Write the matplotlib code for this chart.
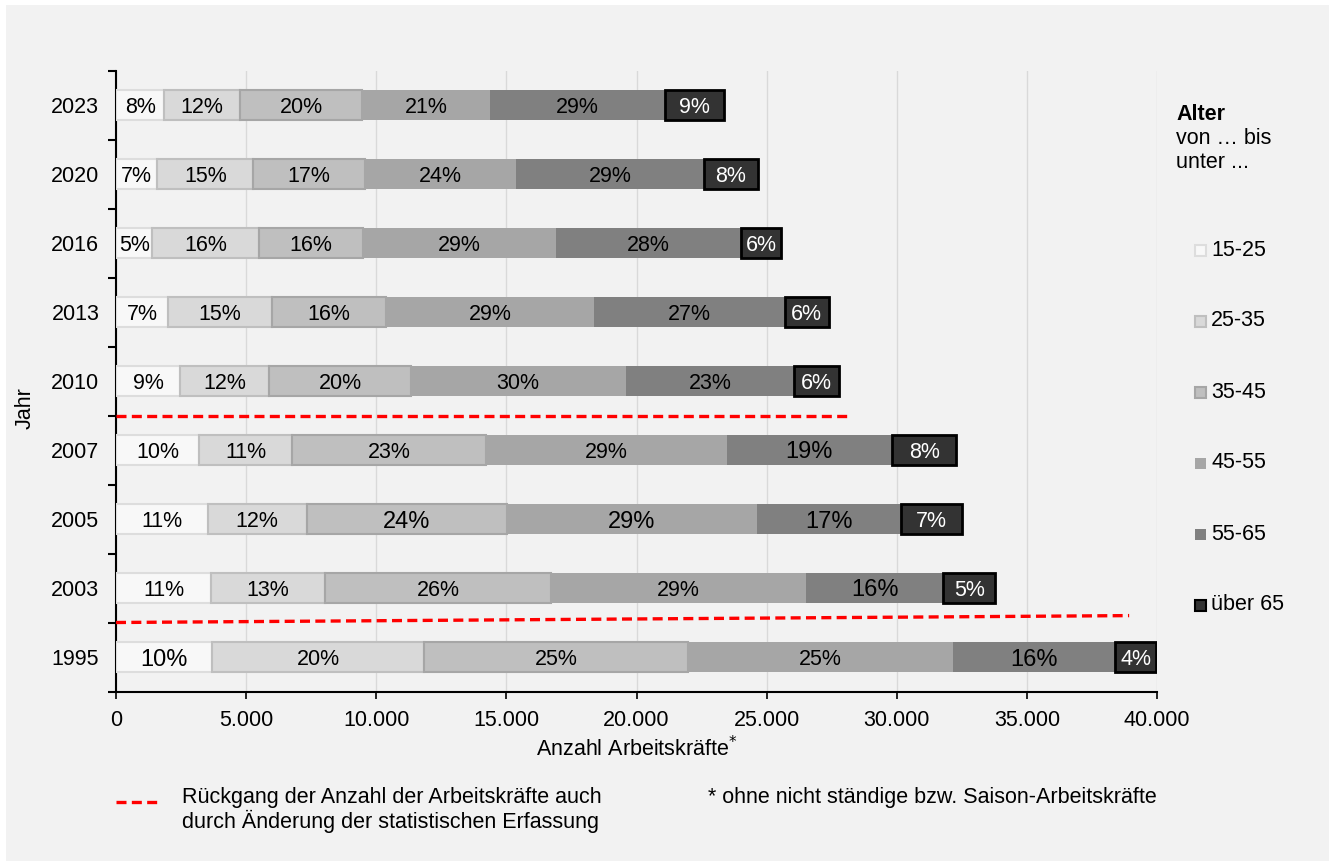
import matplotlib
matplotlib.use('Agg')
import matplotlib.pyplot as plt
import matplotlib.patches as patches
from matplotlib.ticker import FuncFormatter, MultipleLocator
from matplotlib.lines import Line2D
import numpy as np

plt.rcParams['font.family'] = ['Liberation Sans', 'DejaVu Sans']
FS = 15.5  # Grundschriftgröße

# Jahre (unten -> oben)
years = ['1995', '2003', '2005', '2007', '2010', '2013', '2016', '2020', '2023']
groups = ['15-25', '25-35', '35-45', '45-55', '55-65', 'über 65']

# Anzahl Arbeitskräfte je Altersgruppe
a15_25 = [3700, 3650, 3520, 3200, 2460, 1990, 1400, 1590, 1860]
a25_35 = [8140, 4390, 3800, 3570, 3430, 4000, 4090, 3690, 2910]
a35_45 = [10150, 8660, 7700, 7440, 5430, 4390, 4010, 4290, 4700]
a45_55 = [10160, 9810, 9600, 9270, 8270, 7990, 7390, 5800, 4910]
a55_65 = [6240, 5280, 5550, 6330, 6480, 7330, 7120, 7220, 6720]
a65 = [1590, 1990, 2350, 2480, 1710, 1680, 1550, 2070, 2270]

# Anteile (Beschriftung in %)
p15_25 = [10, 11, 11, 10, 9, 7, 5, 7, 8]
p25_35 = [20, 13, 12, 11, 12, 15, 16, 15, 12]
p35_45 = [25, 26, 24, 23, 20, 16, 16, 17, 20]
p45_55 = [25, 29, 29, 29, 30, 29, 29, 24, 21]
p55_65 = [16, 16, 17, 19, 23, 27, 28, 29, 29]
p65 = [4, 5, 7, 8, 6, 6, 6, 8, 9]

# größere Beschriftungen (Jahr, Gruppe)
big_labels = [('1995', 0), ('1995', 4), ('2003', 4), ('2005', 2), ('2005', 3), ('2005', 4), ('2007', 4)]

# Rückgang durch Änderung der Erfassung: Länge der Linien
break_2007_x = 28150
break_1995_x = 38930

values = [a15_25, a25_35, a35_45, a45_55, a55_65, a65]
pcts = [p15_25, p25_35, p35_45, p45_55, p55_65, p65]
faces = ['#F8F8F8', '#D9D9D9', '#BFBFBF', '#A6A6A6', '#808080', '#333333']
edges = ['#DDDDDD', '#BFBFBF', '#A6A6A6', '#A6A6A6', '#808080', '#000000']
lws = [1.5, 1.5, 1.5, 0, 0, 2.0]
txt_col = ['black'] * 5 + ['white']

W, H = 1329, 861
fig = plt.figure(figsize=(W / 100, H / 100), dpi=100, facecolor='white')
fig.add_artist(patches.Rectangle((6 / W, 0), 1, 1 - 5 / H, transform=fig.transFigure,
                                 facecolor='#F2F2F2', edgecolor='none', zorder=-10))

ax = fig.add_axes([116 / W, 1 - 691.5 / H, (1157 - 116) / W, (691.5 - 70.5) / H])
ax.set_facecolor('#F2F2F2')

y = np.arange(len(years))
left = np.zeros(len(years))
for i in range(len(groups)):
    ax.barh(y, values[i], left=left, height=0.44, color=faces[i], edgecolor=edges[i],
            linewidth=lws[i], zorder=3)
    for j in range(len(years)):
        size = 17 if (years[j], i) in big_labels else FS
        ax.text(left[j] + values[i][j] / 2, y[j], f'{pcts[i][j]}%', ha='center',
                va='center_baseline', fontsize=size, color=txt_col[i], zorder=4)
    left += np.array(values[i])

# gestrichelte Linien
ax.plot([0, break_2007_x], [3.5, 3.5], color='#FF0000', lw=2.4, dashes=(3, 1.6), zorder=5,
        clip_on=False)
ax.plot([0, break_1995_x], [0.5, 0.6], color='#FF0000', lw=2.4, dashes=(3, 1.6), zorder=5,
        clip_on=False)

ax.set_xlim(0, 40000)
ax.set_ylim(-0.5, len(years) - 0.5)
ax.xaxis.set_major_locator(MultipleLocator(5000))
ax.xaxis.set_major_formatter(FuncFormatter(lambda v, p: f'{int(v):,}'.replace(',', '.')))
ax.grid(axis='x', color='#D9D9D9', linewidth=1, zorder=0)
ax.set_yticks(y)
ax.set_yticklabels(years, va='center_baseline')
ax.set_yticks(np.arange(-0.5, len(years), 1), minor=True)
ax.tick_params(axis='y', which='major', length=0, pad=12, labelsize=FS)
ax.tick_params(axis='y', which='minor', length=6, width=1.5, color='black')
ax.tick_params(axis='x', which='major', length=5, width=1.2, pad=8, labelsize=FS)
for s in ['top', 'right']:
    ax.spines[s].set_visible(False)
ax.spines['left'].set_linewidth(1.5)
ax.spines['bottom'].set_linewidth(1.5)
ax.set_xlabel('Anzahl Arbeitskräfte$^{*}$', fontsize=FS, labelpad=4)

fig.text(25 / W, 1 - 408 / H, 'Jahr', rotation=90, ha='center', va='center', fontsize=FS)

# Legende rechts
fig.text(1176 / W, 1 - 114 / H, 'Alter', fontsize=FS, fontweight='bold', va='center')
fig.text(1176 / W, 1 - 139 / H, 'von … bis', fontsize=FS, va='center')
fig.text(1176 / W, 1 - 163 / H, 'unter ...', fontsize=FS, va='center')
for i, g in enumerate(groups):
    yc = 250 + 71 * i
    fig.add_artist(patches.Rectangle((1195 / W, 1 - (yc + 6) / H), 11 / W, 11 / H,
                                     transform=fig.transFigure, facecolor=faces[i],
                                     edgecolor=edges[i], linewidth=1.5 if lws[i] else 0))
    fig.text(1211 / W, 1 - yc / H, g, fontsize=FS, va='center')

# Fußnoten
fig.add_artist(Line2D([116 / W, 160 / W], [1 - 802 / H, 1 - 802 / H], transform=fig.transFigure,
                      color='#FF0000', lw=2.4, dashes=(3, 1.6)))
fig.text(182 / W, 1 - 810 / H, 'Rückgang der Anzahl der Arbeitskräfte auch\n'
         'durch Änderung der statistischen Erfassung', fontsize=FS, va='center', linespacing=1.1)
fig.text(708 / W, 1 - 798 / H, '* ohne nicht ständige bzw. Saison-Arbeitskräfte', fontsize=FS,
         va='center')

fig.savefig('out.png', dpi=100, facecolor=fig.get_facecolor())
